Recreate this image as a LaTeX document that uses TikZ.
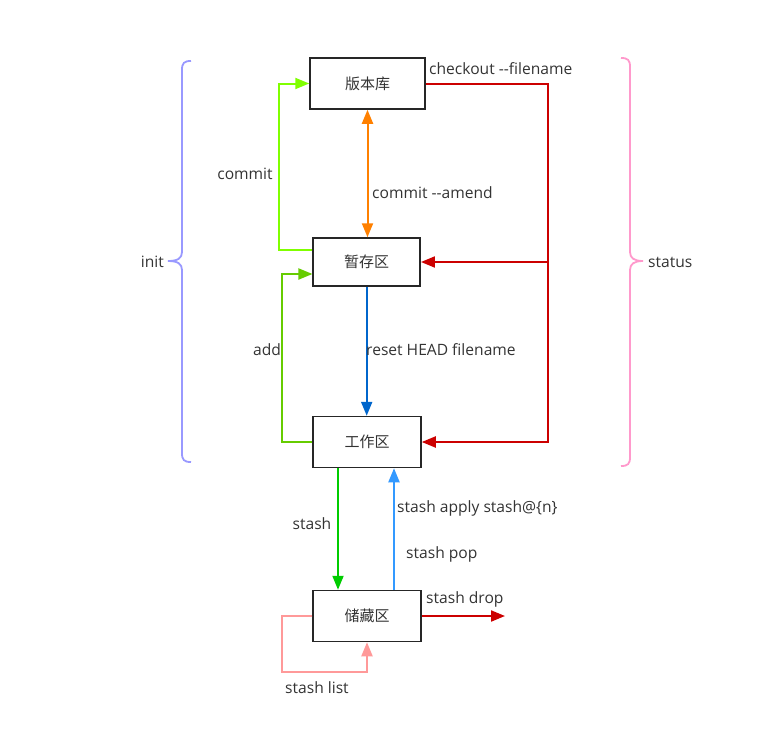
\documentclass[tikz,border=0pt]{standalone}
\usepackage{fontspec}
\setmainfont{Open Sans}[Ligatures=TeXOff]
\newfontfamily\cjk{Noto Sans CJK SC}
\usetikzlibrary{arrows.meta}
\definecolor{txt}{HTML}{333333}
\definecolor{cCommit}{HTML}{80FF00}
\definecolor{cAdd}{HTML}{66CC00}
\definecolor{cAmend}{HTML}{FF8000}
\definecolor{cReset}{HTML}{0066CC}
\definecolor{cRed}{HTML}{CC0000}
\definecolor{cStash}{HTML}{00CC00}
\definecolor{cPop}{HTML}{3399FF}
\definecolor{cList}{HTML}{FF9999}
\definecolor{cInit}{HTML}{9999FF}
\definecolor{cStatus}{HTML}{FF99CC}
\tikzset{
  area/.style={draw=black!85, line width=1.5pt, fill=white, minimum width=108pt, minimum height=51pt, inner sep=0pt, text=txt, font=\cjk\fontsize{15}{17}\selectfont},
  lbl/.style={text=txt, font=\fontsize{15.6}{18}\selectfont, inner sep=0pt},
  conn/.style={line width=2pt, -{Triangle[length=14pt,width=11pt]}},
  brace/.style={line width=1.8pt},
}
\begin{document}
\begin{tikzpicture}[x=1pt,y=-1pt]
\useasboundingbox (0,0) rectangle (779,739);
% nodes
\node[area, minimum width=115pt] (repo) at (367.5,83.5) {版本库};
\node[area, minimum width=107pt, minimum height=48pt] (stage) at (366.7,262) {暂存区};
\node[area] (work) at (367,442) {工作区};
\node[area] (stash) at (367,616) {储藏区};
\coordinate (rc) at (548,442);
\coordinate (dropend) at (505,616);
% connectors
\draw[conn, cCommit] ([yshift=12pt]stage.west) -- ++(-33,0) |- (repo.west);
\draw[conn, cAdd] (work.west) -- ++(-30,0) |- ([yshift=-12pt]stage.west);
\draw[conn, cAmend, {Triangle[length=14pt,width=11pt]}-{Triangle[length=14pt,width=11pt]}] (repo.south) -- (repo.south |- stage.north);
\draw[conn, cReset] (stage.south) -- (stage.south |- work.north);
\draw[conn, cRed] (repo.east) -| (rc) -- (work.east);
\draw[conn, cRed] (rc |- stage.east) -- (stage.east);
\draw[conn, cStash] ([xshift=-29pt]work.south) -- ([xshift=-29pt]stash.north);
\draw[conn, cPop] ([xshift=27pt]stash.north) -- ([xshift=27pt]work.south);
\draw[conn, cRed] (stash.east) -- (dropend);
\draw[conn, cList] (stash.west) -- ++(-30,0) |- ([yshift=-30pt]stash.south) -- (stash.south);
% braces
\draw[brace, cInit] (191,61) .. controls (184,61) and (182,63) .. (182,70) -- (182,252) .. controls (182,258) and (178,261) .. (168,261) .. controls (178,261) and (182,264) .. (182,270) -- (182,453) .. controls (182,460) and (184,462) .. (191,462);
\draw[brace, cStatus] (621,58) .. controls (628,58) and (630,60) .. (630,67) -- (630,252) .. controls (630,258) and (634,261) .. (643,261) .. controls (634,261) and (630,264) .. (630,270) -- (630,457) .. controls (630,464) and (628,466) .. (621,466);
% labels
\node[lbl, anchor=east] (init) at (164,262) {init};
\node[lbl, anchor=west] (status) at (648,262) {status};
\node[lbl] (lcommit) at (245,174) {commit};
\node[lbl, anchor=west] (lamend) at (372,193) {commit --amend};
\node[lbl, anchor=west] (lcheckout) at (429,69) {checkout --filename};
\node[lbl] (ladd) at (267,350) {add};
\node[lbl, anchor=west] (lreset) at (366,350) {reset HEAD filename};
\node[lbl, anchor=west] (lapply) at (397,508) {stash apply stash@\{n\}};
\node[lbl, anchor=west] (lpop) at (406,554) {stash pop};
\node[lbl] (lstash) at (312,524) {stash};
\node[lbl, anchor=west] (ldrop) at (426,599) {stash drop};
\node[lbl, anchor=west] (llist) at (285,688) {stash list};
\end{tikzpicture}
\end{document}
